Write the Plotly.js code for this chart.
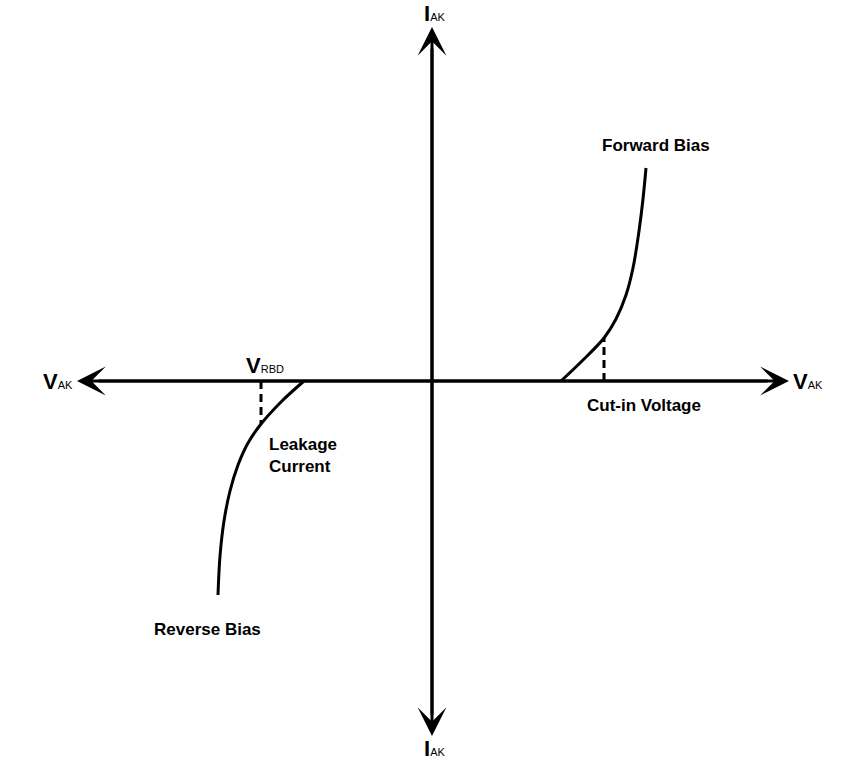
<!DOCTYPE html>
<html>
<head>
<meta charset="utf-8">
<script src="https://cdn.plot.ly/plotly-3.0.1.min.js"></script>
<style>html,body{margin:0;padding:0;background:#fff;}#chart{width:849px;height:768px;}</style>
</head>
<body>
<div id="chart"></div>
<script>
// Diode I-V characteristic (schematic units)
var forwardV = [129, 150, 172, 184, 194, 201, 207, 211, 214];
var forwardI = [0, 20, 43, 62, 86, 113, 150, 182, 213];
var reverseV = [-128, -150, -171, -184, -194, -202, -208, -212, -214];
var reverseI = [0, -20, -43, -62, -84, -110, -140, -175, -214];
var cutInV = [172, 172];
var cutInI = [0, 43];
var breakdownV = [-171, -171];
var breakdownI = [0, -43];
// Axis extents (arrow tips)
var axisRight = 357, axisLeft = -355, axisTop = 354, axisBottom = -355;
var xRange = [-432, 417];
var yRange = [-387, 381];

var FONT = "Liberation Sans, Arial, sans-serif";
function axLabel(main){
  return "<b>" + main + "</b><span style='font-size:11px'>AK</span>";
}

var traces = [
  {x: forwardV, y: forwardI, mode: "lines", line: {color: "#000", width: 3, shape: "spline", smoothing: 1}, hoverinfo: "skip"},
  {x: reverseV, y: reverseI, mode: "lines", line: {color: "#000", width: 3, shape: "spline", smoothing: 1}, hoverinfo: "skip"},
  {x: cutInV, y: cutInI, mode: "lines", line: {color: "#000", width: 3, dash: "8px,5px"}, hoverinfo: "skip"},
  {x: breakdownV, y: breakdownI, mode: "lines", line: {color: "#000", width: 3, dash: "8px,5px"}, hoverinfo: "skip"}
];

function arrow(x, y, fx, fy){
  return {x: x, y: y, ax: fx, ay: fy, xref: "x", yref: "y", axref: "x", ayref: "y",
    showarrow: true, arrowhead: 3, arrowsize: 1.6, arrowwidth: 3, arrowcolor: "#000", text: ""};
}
function label(x, y, text, size, bold){
  return {x: x, y: y, xref: "x", yref: "y", showarrow: false, xanchor: "left", yanchor: "middle",
    align: "left", text: bold ? "<b>" + text + "</b>" : text,
    font: {family: FONT, size: size, color: "#000"}};
}

var annotations = [
  arrow(axisRight, 0, axisLeft + 20, 0), arrow(axisLeft, 0, axisRight - 20, 0),
  arrow(0, axisTop, 0, axisBottom + 20), arrow(0, axisBottom, 0, axisTop - 20),
  label(-10, 368, axLabel("I"), 22, false),
  label(-10, -367, axLabel("I"), 22, false),
  label(-391, 0, axLabel("V"), 22, false),
  label(359, 0, axLabel("V"), 22, false),
  label(-188, 16, "<b>V</b><span style='font-size:11px'>RBD</span>", 22, false),
  label(-165, -74, "Leakage<br>Current", 17, true),
  label(-280, -248, "Reverse Bias", 17, true),
  label(168, 236, "Forward Bias", 17, true),
  label(153, -24, "Cut-in Voltage", 17, true)
];

var layout = {
  width: 849, height: 768,
  margin: {l: 0, r: 0, t: 0, b: 0},
  paper_bgcolor: "#fff", plot_bgcolor: "#fff",
  showlegend: false,
  xaxis: {range: xRange, visible: false, fixedrange: true},
  yaxis: {range: yRange, visible: false, fixedrange: true},
  annotations: annotations,
  font: {family: FONT}
};

Plotly.newPlot("chart", traces, layout, {displayModeBar: false, staticPlot: true});
</script>
</body>
</html>
